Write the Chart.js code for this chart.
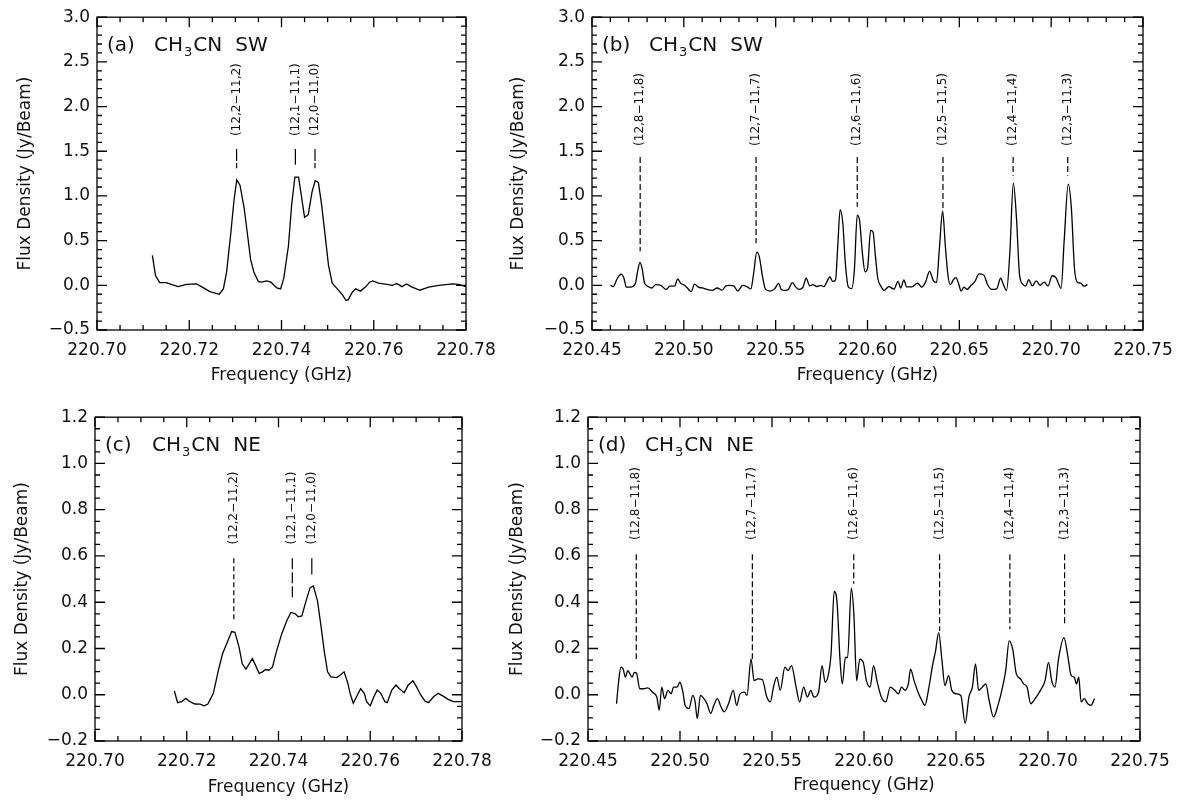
<!DOCTYPE html>
<html>
<head>
<meta charset="utf-8">
<script src="https://cdn.jsdelivr.net/npm/chart.js@4.4.1/dist/chart.umd.min.js"></script>
<style>
  html, body { margin: 0; padding: 0; background: #fff; }
  #fig { position: relative; width: 1183px; height: 803px; overflow: hidden; }
  .panel { position: absolute; }
</style>
</head>
<body>
<div id="fig">
  <div class="panel" style="left:0px;top:0px"><canvas id="chartA" width="506" height="392"></canvas></div>
  <div class="panel" style="left:480px;top:0px"><canvas id="chartB" width="703" height="392"></canvas></div>
  <div class="panel" style="left:0px;top:400px"><canvas id="chartC" width="502" height="403"></canvas></div>
  <div class="panel" style="left:480px;top:400px"><canvas id="chartD" width="703" height="403"></canvas></div>
</div>
<script>
// CH3CN (12_K - 11_K) rest frequencies, K = 8 ... 0 (GHz)
let kFreqs = [220.476223, 220.539324, 220.594423, 220.641084, 220.679287, 220.709017, 220.730261, 220.743011, 220.747261];
let kLabels = ["(12,8\u221211,8)", "(12,7\u221211,7)", "(12,6\u221211,6)", "(12,5\u221211,5)", "(12,4\u221211,4)",
  "(12,3\u221211,3)", "(12,2\u221211,2)", "(12,1\u221211,1)", "(12,0\u221211,0)"];

// (a) SW, K = 0-2
let freqA = [220.7120, 220.7127, 220.7136, 220.7150, 220.7161, 220.7176, 220.7194, 220.7216, 220.7245, 220.7265,
  220.7274, 220.7281, 220.7290, 220.7297, 220.7303, 220.7310, 220.7319, 220.7326, 220.7333, 220.7340,
  220.7350, 220.7357, 220.7368, 220.7377, 220.7390, 220.7398, 220.7405, 220.7415, 220.7422, 220.7429,
  220.7437, 220.7444, 220.7450, 220.7458, 220.7466, 220.7473, 220.7480, 220.7487, 220.7495, 220.7502,
  220.7510, 220.7520, 220.7531, 220.7540, 220.7545, 220.7553, 220.7561, 220.7571, 220.7582, 220.7591,
  220.7598, 220.7610, 220.7629, 220.7640, 220.7650, 220.7661, 220.7671, 220.7681, 220.7700, 220.7719,
  220.7741, 220.7770, 220.7784, 220.7799];
let fluxA = [0.335, 0.107, 0.03, 0.03, 0.01, -0.015, 0.01, 0.015, -0.07, -0.1,
  -0.04, 0.15, 0.58, 0.95, 1.18, 1.12, 0.865, 0.58, 0.29, 0.15,
  0.04, 0.035, 0.05, 0.035, -0.03, -0.04, 0.08, 0.44, 0.9, 1.21,
  1.21, 0.97, 0.76, 0.79, 1.04, 1.17, 1.15, 0.9, 0.54, 0.22,
  0.025, -0.035, -0.1, -0.17, -0.16, -0.08, -0.04, -0.065, -0.02, 0.035,
  0.05, 0.025, 0.01, 0.0, 0.02, -0.015, 0.015, -0.015, -0.055, -0.02,
  0.0, 0.015, 0.01, -0.015];

// (b) SW, K = 3-8
let freqB = [220.4601, 220.4616, 220.4638, 220.4659, 220.4674, 220.4687, 220.4709, 220.4735, 220.4748, 220.4761,
  220.4773, 220.4786, 220.4803, 220.4825, 220.4847, 220.4875, 220.4903, 220.4924, 220.4950, 220.4967,
  220.4982, 220.5004, 220.5019, 220.5040, 220.5058, 220.5079, 220.5101, 220.5126, 220.5154, 220.5182,
  220.5208, 220.5229, 220.5251, 220.5272, 220.5294, 220.5320, 220.5348, 220.5365, 220.5380, 220.5397,
  220.5412, 220.5427, 220.5445, 220.5470, 220.5494, 220.5516, 220.5531, 220.5552, 220.5569, 220.5591,
  220.5610, 220.5627, 220.5649, 220.5666, 220.5686, 220.5703, 220.5724, 220.5746, 220.5763, 220.5778,
  220.5795, 220.5810, 220.5826, 220.5838, 220.5851, 220.5866, 220.5879, 220.5896, 220.5914, 220.5929,
  220.5944, 220.5957, 220.5972, 220.5987, 220.6000, 220.6017, 220.6030, 220.6043, 220.6056, 220.6073,
  220.6090, 220.6116, 220.6144, 220.6166, 220.6181, 220.6198, 220.6213, 220.6241, 220.6273, 220.6295,
  220.6316, 220.6338, 220.6359, 220.6376, 220.6391, 220.6409, 220.6424, 220.6439, 220.6452, 220.6467,
  220.6482, 220.6495, 220.6510, 220.6525, 220.6542, 220.6564, 220.6585, 220.6607, 220.6633, 220.6654,
  220.6676, 220.6703, 220.6725, 220.6740, 220.6757, 220.6775, 220.6794, 220.6811, 220.6828, 220.6848,
  220.6861, 220.6878, 220.6897, 220.6919, 220.6940, 220.6962, 220.6983, 220.7005, 220.7026, 220.7041,
  220.7054, 220.7071, 220.7093, 220.7110, 220.7127, 220.7144, 220.7161, 220.7178, 220.7198];
let fluxB = [0.0, -0.014, 0.079, 0.125, 0.079, -0.02, -0.02, 0.014, 0.15, 0.257,
  0.186, 0.025, -0.01, -0.03, 0.007, 0.0, -0.046, -0.01, -0.007, 0.071,
  0.025, 0.0, -0.03, -0.071, 0.014, -0.02, -0.03, -0.046, -0.057, -0.03,
  -0.054, -0.007, 0.0, -0.007, -0.064, 0.0, -0.02, -0.04, 0.132, 0.371,
  0.31, 0.114, -0.046, -0.064, -0.04, 0.021, -0.046, -0.057, -0.046, 0.029,
  -0.02, -0.046, -0.02, 0.079, -0.007, 0.007, -0.014, 0.0, -0.014, 0.036,
  0.096, 0.043, 0.061, 0.436, 0.846, 0.686, 0.257, -0.02, -0.036, 0.186,
  0.786, 0.721, 0.364, 0.15, 0.186, 0.614, 0.596, 0.329, 0.079, -0.01,
  -0.057, -0.014, -0.043, 0.043, -0.03, 0.061, -0.018, -0.018, 0.025, -0.02,
  0.036, 0.157, 0.05, 0.032, 0.4, 0.829, 0.436, 0.096, 0.007, 0.061,
  0.086, 0.025, -0.064, -0.02, -0.046, 0.0, 0.043, 0.129, 0.114, 0.007,
  -0.046, -0.04, 0.079, 0.007, -0.057, 0.364, 1.143, 0.757, 0.114, 0.007,
  -0.01, 0.064, -0.007, 0.05, 0.0, 0.036, -0.007, 0.107, 0.086, 0.014,
  -0.036, 0.507, 1.132, 0.864, 0.186, 0.032, 0.025, -0.01, 0.007];

// (c) NE, K = 0-2
let freqC = [220.7173, 220.7180, 220.7189, 220.7198, 220.7207, 220.7218, 220.7229, 220.7238, 220.7246, 220.7258,
  220.7269, 220.7278, 220.7287, 220.7298, 220.7305, 220.7314, 220.7321, 220.7329, 220.7343, 220.7350,
  220.7358, 220.7365, 220.7372, 220.7379, 220.7387, 220.7396, 220.7407, 220.7418, 220.7427, 220.7436,
  220.7443, 220.7451, 220.7460, 220.7469, 220.7476, 220.7485, 220.7493, 220.7500, 220.7507, 220.7514,
  220.7527, 220.7534, 220.7543, 220.7551, 220.7556, 220.7563, 220.7572, 220.7579, 220.7587, 220.7592,
  220.7600, 220.7608, 220.7615, 220.7623, 220.7632, 220.7637, 220.7647, 220.7656, 220.7663, 220.7674,
  220.7683, 220.7693, 220.7701, 220.7710, 220.7719, 220.7727, 220.7738, 220.7748, 220.7759, 220.7770,
  220.7781, 220.7799];
let fluxC = [0.016, -0.034, -0.03, -0.016, -0.03, -0.04, -0.041, -0.048, -0.04, 0.006,
  0.106, 0.177, 0.22, 0.273, 0.27, 0.206, 0.134, 0.111, 0.156, 0.127,
  0.092, 0.099, 0.109, 0.106, 0.12, 0.191, 0.263, 0.32, 0.356, 0.351,
  0.337, 0.341, 0.406, 0.463, 0.47, 0.406, 0.291, 0.184, 0.099, 0.077,
  0.074, 0.084, 0.099, 0.051, 0.006, -0.037, -0.001, 0.026, 0.006, -0.03,
  -0.048, -0.009, 0.02, 0.006, -0.03, -0.034, 0.02, 0.042, 0.027, 0.009,
  0.042, 0.06, 0.034, -0.001, -0.027, -0.034, -0.009, 0.006, -0.006, -0.02,
  -0.03, -0.03];

// (d) NE, K = 3-8
let freqD = [220.4655, 220.4667, 220.4679, 220.4691, 220.4703, 220.4716, 220.4728, 220.4740, 220.4752, 220.4764,
  220.4781, 220.4801, 220.4825, 220.4850, 220.4874, 220.4887, 220.4901, 220.4916, 220.4935, 220.4952,
  220.4965, 220.4984, 220.4999, 220.5014, 220.5028, 220.5048, 220.5070, 220.5082, 220.5094, 220.5111,
  220.5130, 220.5147, 220.5167, 220.5184, 220.5203, 220.5223, 220.5240, 220.5264, 220.5289, 220.5308,
  220.5326, 220.5350, 220.5364, 220.5386, 220.5403, 220.5423, 220.5447, 220.5472, 220.5491, 220.5508,
  220.5526, 220.5545, 220.5570, 220.5587, 220.5606, 220.5631, 220.5650, 220.5672, 220.5692, 220.5711,
  220.5728, 220.5753, 220.5772, 220.5789, 220.5809, 220.5821, 220.5838, 220.5853, 220.5870, 220.5882,
  220.5899, 220.5911, 220.5931, 220.5945, 220.5960, 220.5977, 220.5996, 220.6013, 220.6033, 220.6052,
  220.6072, 220.6094, 220.6118, 220.6143, 220.6167, 220.6187, 220.6204, 220.6223, 220.6241, 220.6253,
  220.6272, 220.6297, 220.6314, 220.6331, 220.6350, 220.6374, 220.6389, 220.6406, 220.6423, 220.6440,
  220.6460, 220.6477, 220.6501, 220.6526, 220.6550, 220.6570, 220.6589, 220.6606, 220.6623, 220.6643,
  220.6662, 220.6680, 220.6704, 220.6728, 220.6753, 220.6770, 220.6789, 220.6808, 220.6828, 220.6850,
  220.6867, 220.6886, 220.6906, 220.6930, 220.6959, 220.6984, 220.7003, 220.7020, 220.7038, 220.7057,
  220.7087, 220.7106, 220.7126, 220.7143, 220.7155, 220.7167, 220.7180, 220.7197, 220.7216, 220.7233,
  220.7253];
let fluxD = [-0.039, 0.061, 0.119, 0.111, 0.076, 0.104, 0.09, 0.076, 0.097, 0.093,
  0.026, 0.026, 0.03, 0.011, -0.01, -0.067, 0.033, -0.017, 0.019, 0.004,
  0.033, 0.033, 0.054, 0.019, -0.046, -0.06, -0.003, -0.031, -0.103, -0.003,
  -0.017, -0.039, -0.081, -0.046, -0.017, -0.053, -0.074, -0.039, 0.019, -0.046,
  0.004, 0.011, -0.003, 0.154, 0.061, 0.069, 0.066, -0.01, -0.031, 0.033,
  0.076, 0.019, 0.119, 0.104, 0.126, 0.033, -0.031, 0.033, -0.01, 0.019,
  -0.01, 0.011, 0.126, 0.054, 0.097, 0.176, 0.447, 0.404, 0.147, 0.047,
  0.161, 0.161, 0.461, 0.347, 0.061, 0.154, 0.14, 0.061, 0.033, 0.126,
  0.054, -0.01, -0.031, 0.033, 0.019, 0.004, 0.033, 0.019, 0.047, 0.111,
  0.061, 0.004, -0.024, -0.046, 0.019, 0.133, 0.19, 0.269, 0.154, 0.04,
  0.083, 0.019, 0.004, -0.003, -0.124, -0.01, 0.033, 0.133, 0.019, 0.033,
  0.047, -0.024, -0.096, -0.046, 0.033, 0.104, 0.233, 0.197, 0.09, 0.069,
  0.047, 0.033, -0.039, -0.017, 0.019, 0.061, 0.14, 0.061, 0.033, 0.154,
  0.247, 0.176, 0.083, 0.076, 0.047, 0.076, -0.031, -0.017, -0.039, -0.046,
  -0.017];

// line marker extents (Jy/Beam): top of tick, bottom per line, label start
let markTopA = 1.525, markBotA = [1.31, 1.35, 1.31], labelBaseA = 1.67;
let markTopB = 1.436, markBotB = [0.38, 0.47, 0.88, 0.85, 1.225, 1.225], labelBaseB = 1.56;
let markTopC = 0.59, markBotC = [0.32, 0.41, 0.52], labelBaseC = 0.65;
let markTopD = 0.607, markBotD = [0.154, 0.154, 0.48, 0.276, 0.283, 0.304], labelBaseD = 0.669;

const FONT = '"DejaVu Sans", sans-serif';
const INK = '#111';

const framePlugin = {
  id: 'frame',
  afterDraw(chart, args, opts) {
    const { ctx, chartArea: a } = chart;
    const xs = chart.scales.x, ys = chart.scales.y;
    ctx.save();
    ctx.strokeStyle = '#000';
    ctx.lineWidth = 1.3;
    ctx.strokeRect(a.left, a.top, a.right - a.left, a.bottom - a.top);

    const steps = (s, step) => {
      const out = [];
      const n = Math.round((s.max - s.min) / step);
      for (let i = 0; i <= n; i++) out.push(s.min + i * step);
      return out;
    };
    const xTick = (v, len) => {
      const p = xs.getPixelForValue(v);
      ctx.moveTo(p, a.bottom); ctx.lineTo(p, a.bottom - len);
      ctx.moveTo(p, a.top); ctx.lineTo(p, a.top + len);
    };
    const yTick = (v, len) => {
      const p = ys.getPixelForValue(v);
      ctx.moveTo(a.left, p); ctx.lineTo(a.left + len, p);
      ctx.moveTo(a.right, p); ctx.lineTo(a.right - len, p);
    };
    ctx.beginPath();
    steps(xs, opts.xMinor).forEach(v => xTick(v, 5));
    steps(ys, opts.yMinor).forEach(v => yTick(v, 5));
    xs.ticks.forEach(t => xTick(t.value, 10));
    ys.ticks.forEach(t => yTick(t.value, 10));
    ctx.stroke();

    // transition labels
    ctx.fillStyle = INK;
    ctx.font = '12px ' + FONT;
    ctx.textAlign = 'left';
    ctx.textBaseline = 'middle';
    opts.lineFreqs.forEach((f, i) => {
      ctx.save();
      ctx.translate(xs.getPixelForValue(f), ys.getPixelForValue(opts.labelBase));
      ctx.rotate(-Math.PI / 2);
      ctx.fillText(opts.lineNames[i], 0, 0);
      ctx.restore();
    });

    // panel tag  "(a) CH3CN SW"
    ctx.textBaseline = 'alphabetic';
    const big = '20px ' + FONT, small = '13px ' + FONT;
    let x = a.left + 10, yb = a.top + 34;
    ctx.font = big;
    ctx.fillText(opts.tag, x, yb);
    x += 47;
    ctx.fillText('CH', x, yb);
    x += ctx.measureText('CH').width + 1;
    ctx.font = small;
    ctx.fillText('3', x, yb + 5);
    x += ctx.measureText('3').width + 1;
    ctx.font = big;
    ctx.fillText('CN', x, yb);
    x += ctx.measureText('CN').width + 13;
    ctx.fillText(opts.region, x, yb);
    ctx.restore();
  }
};

function spectrum(freq, flux, smooth) {
  return {
    data: freq.map((f, i) => ({ x: f, y: flux[i] })),
    borderColor: '#000',
    borderWidth: 1.3,
    pointRadius: 0,
    tension: smooth ? 0.4 : 0,
    cubicInterpolationMode: smooth ? 'monotone' : 'default',
  };
}

function markers(freqs, top, bottoms, dashes) {
  return freqs.map((f, i) => ({
    data: [{ x: f, y: top }, { x: f, y: bottoms[i] }],
    borderColor: '#000',
    borderWidth: 1.2,
    borderDash: dashes[i],
    pointRadius: 0,
    tension: 0,
  }));
}

function yLabel(v) {
  if (Math.abs(v) < 1e-9) v = 0;
  return v.toFixed(1).replace('-', '\u2212');
}

function makeConfig(p) {
  return {
    type: 'line',
    data: { datasets: [p.spec, ...p.marks] },
    options: {
      responsive: false,
      animation: false,
      events: [],
      layout: { padding: { left: 0, top: p.padTop, right: p.padRight, bottom: 0 } },
      plugins: {
        legend: { display: false },
        tooltip: { enabled: false },
        frame: p.frame,
      },
      scales: {
        x: {
          type: 'linear',
          min: p.xMin, max: p.xMax,
          ticks: { stepSize: p.xStep, padding: 10, color: INK, font: { family: FONT, size: 17 },
            autoSkip: false, maxRotation: 0, callback: v => v.toFixed(2) },
          grid: { display: false, drawTicks: false },
          border: { display: false },
          title: { display: true, text: 'Frequency (GHz)', color: INK, font: { family: FONT, size: 17 },
            padding: { top: 0, bottom: p.xTitlePad } },
          afterFit: s => { s.height = 62; },
        },
        y: {
          min: p.yMin, max: p.yMax,
          ticks: { stepSize: p.yStep, padding: 7, color: INK, font: { family: FONT, size: 17 },
            callback: yLabel },
          grid: { display: false, drawTicks: false },
          border: { display: false },
          title: { display: true, text: 'Flux Density (Jy/Beam)', color: INK, font: { family: FONT, size: 17 },
            padding: { top: p.yTitlePad, bottom: 0 } },
          afterFit: s => { s.width = p.yWidth; },
        },
      },
    },
    plugins: [framePlugin],
  };
}

const near = kFreqs.slice(6), far = kFreqs.slice(0, 6);
const nearNames = kLabels.slice(6), farNames = kLabels.slice(0, 6);
const d6 = [6, 3];

// 1
new Chart(document.getElementById('chartA'), makeConfig({
  spec: spectrum(freqA, fluxA, false),
  marks: markers(near, markTopA, markBotA, [[12, 2], [], [12, 2]]),
  padTop: 4, padRight: 40, yWidth: 97, xTitlePad: 6, yTitlePad: 15,
  xMin: 220.70, xMax: 220.78, xStep: 0.02, yMin: -0.5, yMax: 3.0, yStep: 0.5,
  frame: { xMinor: 0.005, yMinor: 0.1, lineFreqs: near, lineNames: nearNames, labelBase: labelBaseA, tag: '(a)', region: 'SW' },
}));
// 2
new Chart(document.getElementById('chartB'), makeConfig({
  spec: spectrum(freqB, fluxB, true),
  marks: markers(far, markTopB, markBotB, [d6, d6, d6, d6, d6, d6]),
  padTop: 4, padRight: 40, yWidth: 112, xTitlePad: 6, yTitlePad: 28,
  xMin: 220.45, xMax: 220.75, xStep: 0.05, yMin: -0.5, yMax: 3.0, yStep: 0.5,
  frame: { xMinor: 0.01, yMinor: 0.1, lineFreqs: far, lineNames: farNames, labelBase: labelBaseB, tag: '(b)', region: 'SW' },
}));
// 3
new Chart(document.getElementById('chartC'), makeConfig({
  spec: spectrum(freqC, fluxC, false),
  marks: markers(near, markTopC, markBotC, [[5, 3], [11, 3], []]),
  padTop: 14, padRight: 40, yWidth: 95, xTitlePad: 5, yTitlePad: 12,
  xMin: 220.70, xMax: 220.78, xStep: 0.02, yMin: -0.2, yMax: 1.2, yStep: 0.2,
  frame: { xMinor: 0.005, yMinor: 0.05, lineFreqs: near, lineNames: nearNames, labelBase: labelBaseC, tag: '(c)', region: 'NE' },
}));
// 4
new Chart(document.getElementById('chartD'), makeConfig({
  spec: spectrum(freqD, fluxD, true),
  marks: markers(far, markTopD, markBotD, [d6, d6, d6, d6, d6, d6]),
  padTop: 14, padRight: 43, yWidth: 108, xTitlePad: 7, yTitlePad: 27,
  xMin: 220.45, xMax: 220.75, xStep: 0.05, yMin: -0.2, yMax: 1.2, yStep: 0.2,
  frame: { xMinor: 0.01, yMinor: 0.05, lineFreqs: far, lineNames: farNames, labelBase: labelBaseD, tag: '(d)', region: 'NE' },
}));
</script>
</body>
</html>
